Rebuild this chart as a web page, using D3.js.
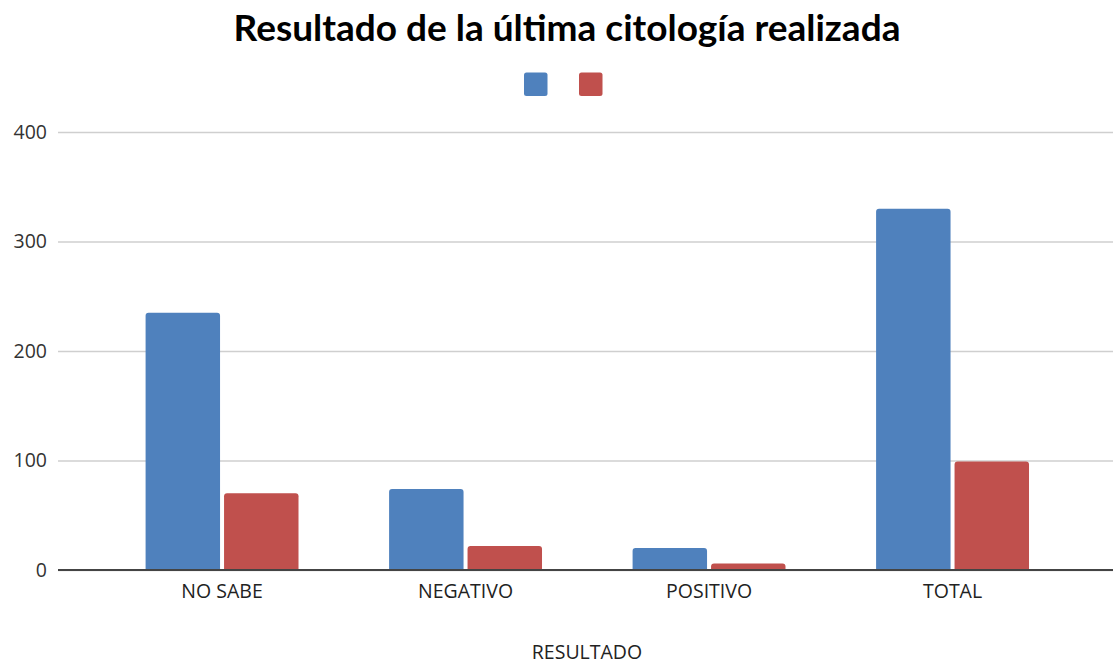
<!DOCTYPE html>
<html>
<head>
<meta charset="utf-8">
<script src="https://cdn.jsdelivr.net/npm/d3@7"></script>
<style>
  html, body { margin: 0; padding: 0; background: #fff; }
  svg { display: block; font-family: "Open Sans", sans-serif; }
</style>
</head>
<body>
<svg id="chart" width="1113" height="664"></svg>
<script>
// Data
const categories = ["NO SABE", "NEGATIVO", "POSITIVO", "TOTAL"];
const seriesNames = ["Serie 1", "Serie 2"];
const blueValues = [235, 74, 20, 330];
const redValues = [70, 22, 6, 99];
const yTicks = [0, 100, 200, 300, 400];
const titleText = "Resultado de la última citología realizada";
const xAxisTitle = "RESULTADO";
const colors = ["#4F81BD", "#C0504D"];

const svg = d3.select("#chart");
const plot = { left: 58, right: 1113, top: 132, bottom: 570 };
const labelFont = "'Open Sans', sans-serif";

const y = d3.scaleLinear().domain([0, 400]).range([plot.bottom, plot.top]);
const x0 = d3.scaleBand().domain(categories).range([100.3, 1074.3])
  .paddingInner(0.372).paddingOuter(0.186);
const x1 = d3.scaleBand().domain(seriesNames).range([0, x0.bandwidth()])
  .paddingInner(0.051);

// Title
svg.append("text")
  .attr("x", 567).attr("y", 41)
  .attr("text-anchor", "middle")
  .attr("font-family", "Lato, sans-serif")
  .attr("font-size", 37).attr("font-weight", "bold")
  .attr("fill", "#000")
  .text(titleText);

// Legend swatches
const legend = svg.append("g");
[524, 579].forEach((lx, i) => {
  legend.append("rect")
    .attr("x", lx).attr("y", 72.5).attr("width", 23.5).attr("height", 23.5)
    .attr("rx", 2.5).attr("fill", colors[i]);
});

// Gridlines and y tick labels
const yAxis = d3.axisLeft(y).tickValues(yTicks).tickSize(-(plot.right - plot.left)).tickPadding(11);
const gy = svg.append("g").attr("transform", `translate(${plot.left},0)`).call(yAxis);
gy.select(".domain").remove();
gy.selectAll(".tick line").attr("stroke", "#cfcfcf").attr("stroke-width", 1.5);
gy.selectAll(".tick text")
  .attr("font-size", 19.5).attr("fill", "#333")
  .attr("font-family", labelFont);

// Rounded-top bar path
function barPath(xp, yt, w, h, r) {
  r = Math.min(r, h, w / 2);
  return `M${xp},${yt + h}V${yt + r}Q${xp},${yt} ${xp + r},${yt}` +
         `H${xp + w - r}Q${xp + w},${yt} ${xp + w},${yt + r}V${yt + h}Z`;
}

const rows = categories.map((c, i) => ({ cat: c, vals: [blueValues[i], redValues[i]] }));
const groups = svg.append("g").selectAll("g").data(rows).join("g")
  .attr("transform", d => `translate(${x0(d.cat)},0)`);
groups.selectAll("path")
  .data(d => d.vals.map((v, j) => ({ key: seriesNames[j], v, j })))
  .join("path")
  .attr("fill", d => colors[d.j])
  .attr("d", d => barPath(x1(d.key), y(d.v), x1.bandwidth(), y(0) - y(d.v), 3));

// Category labels
const xAxis = d3.axisBottom(x0).tickSize(0).tickPadding(14);
const gx = svg.append("g").attr("transform", `translate(0,${plot.bottom})`).call(xAxis);
gx.select(".domain").remove();
gx.selectAll(".tick text")
  .attr("font-size", 19.5).attr("fill", "#222")
  .attr("font-family", labelFont);

// Baseline
svg.append("line")
  .attr("x1", plot.left).attr("x2", plot.right)
  .attr("y1", y(0)).attr("y2", y(0))
  .attr("stroke", "#444").attr("stroke-width", 1.8);

// X axis title
svg.append("text")
  .attr("x", 587).attr("y", 659)
  .attr("text-anchor", "middle")
  .attr("font-size", 19.5).attr("fill", "#222")
  .attr("font-family", labelFont)
  .text(xAxisTitle);
</script>
</body>
</html>
